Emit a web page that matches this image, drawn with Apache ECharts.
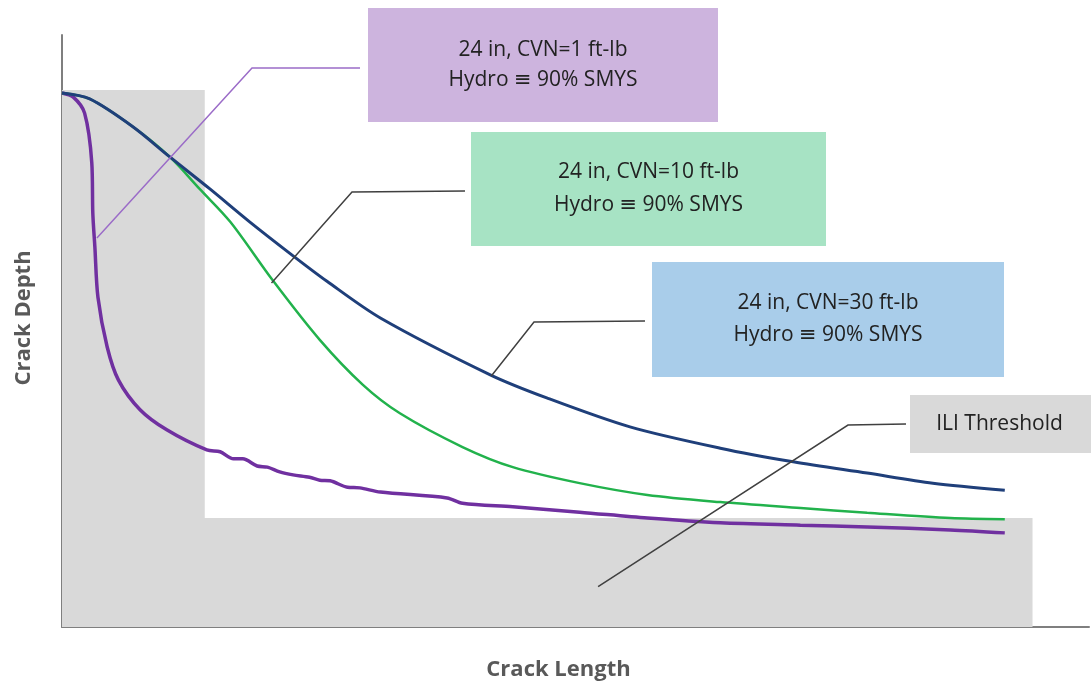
<!DOCTYPE html>
<html>
<head>
<meta charset="utf-8">
<title>Crack Depth vs Crack Length</title>
<script src="https://cdn.jsdelivr.net/npm/echarts@6/dist/echarts.min.js"></script>
<style>
    html, body { margin: 0; padding: 0; background: #fff; }
    #chart { width: 1091px; height: 684px; }
</style>
</head>
<body>
<div id="chart"></div>
<script>
/* ===== data (relative units, 0-100 on both axes) ===== */
const cvn30X = [0, 2.7, 6.9, 10.5, 14.4, 18.3, 22.5, 25.8, 31.0, 41.7, 47.2, 55.3, 64.1, 71.2, 78.4, 84.8, 91.8];
const cvn30Y = [90.2, 89.2, 84.5, 79.4, 74.0, 68.4, 62.7, 58.4, 52.2, 42.6, 38.7, 33.8, 30.2, 27.9, 26.0, 24.3, 23.1];

const cvn10X = [0, 2.7, 6.9, 10.5, 13.4, 16.4, 20.5, 25.1, 29.3, 32.9, 39.0, 43.9, 50.4, 57.0, 64.1, 71.9, 78.4, 86.5, 91.8];
const cvn10Y = [90.2, 89.2, 84.5, 79.4, 74.0, 68.4, 58.6, 48.5, 40.9, 36.1, 30.4, 27.0, 24.3, 22.3, 21.1, 20.1, 19.3, 18.4, 18.2];

const cvn1X = [0, 1.1, 2.2, 2.9, 3.0, 3.2, 3.5, 4.4, 5.5, 7.6, 10.2, 14.1, 15.4, 16.7, 17.6, 19.0, 20.0, 21.2, 22.5, 24.1, 25.1, 26.1, 27.8, 29.0, 31.0, 37.5, 39.0, 43.9, 50.4, 57.0, 64.1, 71.9, 78.4, 86.5, 91.8];
const cvn1Y = [90.2, 89.5, 86.8, 78.4, 69.9, 64.2, 55.7, 47.3, 41.7, 36.7, 33.3, 29.9, 29.6, 28.4, 28.4, 27.2, 27.0, 26.2, 25.7, 25.3, 24.8, 24.7, 23.6, 23.5, 22.8, 21.8, 20.9, 20.3, 19.4, 18.4, 17.6, 17.2, 16.9, 16.4, 15.9];

// ILI threshold outline (L-shaped region)
const iliX = [0, 13.9, 13.9, 94.5, 94.5];
const iliY = [90.7, 90.7, 18.4, 18.4, 0];

const boxTexts = [
    "24 in, CVN=1 ft-lb\nHydro \u2261 90% SMYS",
    "24 in, CVN=10 ft-lb\nHydro \u2261 90% SMYS",
    "24 in, CVN=30 ft-lb\nHydro \u2261 90% SMYS",
    "ILI Threshold",
];
// where each leader line touches the chart (data units)
const leaderTargets = [[3.4, 65.7], [20.4, 58.1], [41.8, 42.4], [52.2, 6.8]];

const zip = (xs, ys) => xs.map((x, i) => [x, ys[i]]);

/* ===== chart ===== */
const chart = echarts.init(document.getElementById("chart"));
const FONT = '"Open Sans", "DejaVu Sans", sans-serif';

const axisCommon = {
    type: "value",
    min: 0,
    max: 100,
    axisLine: { show: true, lineStyle: { color: "#7f7f7f", width: 2 } },
    axisTick: { show: false },
    axisLabel: { show: false },
    splitLine: { show: false },
    nameLocation: "middle",
};
const nameStyle = { color: "#595959", fontSize: 22, fontWeight: "bold", fontFamily: FONT };

function curve(name, xs, ys, color, width, z) {
    return {
        name, type: "line", data: zip(xs, ys), symbol: "none", smooth: 0.3, z,
        lineStyle: { color, width },
        silent: true,
    };
}

chart.setOption({
    animation: false,
    grid: { left: 62, right: 2, top: 35, bottom: 57, outerBoundsMode: "none", containLabel: false },
    xAxis: Object.assign({}, axisCommon, {
        name: "Crack Length", nameGap: 32,
        nameTextStyle: Object.assign({ padding: [0, 34, 0, 0] }, nameStyle),
    }),
    yAxis: Object.assign({}, axisCommon, {
        name: "Crack Depth", nameGap: 27,
        nameTextStyle: Object.assign({ padding: [0, 0, 0, 26] }, nameStyle),
    }),
    series: [
        {
            name: "ILI Threshold", type: "line", data: zip(iliX, iliY), symbol: "none", z: 1,
            lineStyle: { width: 0 }, areaStyle: { color: "#d9d9d9", opacity: 1 }, silent: true,
        },
        curve("CVN=1", cvn1X, cvn1Y, "#7030a0", 3.5, 2),
        curve("CVN=10", cvn10X, cvn10Y, "#22b24c", 2.5, 3),
        curve("CVN=30", cvn30X, cvn30Y, "#1f3f7a", 3, 4),
    ],
});

/* ===== annotation boxes + leader lines ===== */
const boxes = [
    { x: 368, y: 8, w: 350, h: 114, fill: "#cdb4de", lh: 30, elbow: [252, 68], side: [360, 68], line: "#9b6cc8" },
    { x: 471, y: 132, w: 355, h: 114, fill: "#a7e3c4", lh: 33, elbow: [352, 192], side: [465, 191], line: "#404040" },
    { x: 652, y: 262, w: 352, h: 115, fill: "#a9cdea", lh: 32, elbow: [534, 322], side: [645, 321], line: "#404040" },
    { x: 910, y: 395, w: 181, h: 58, fill: "#d9d9d9", lh: 30, elbow: [848, 425], side: [906, 424], line: "#404040" },
];

const graphics = [];
boxes.forEach((b, i) => {
    const tip = chart.convertToPixel({ gridIndex: 0 }, leaderTargets[i]);
    graphics.push({
        type: "polyline", silent: true, z: 10,
        shape: { points: [b.side, b.elbow, tip] },
        style: { stroke: b.line, lineWidth: 1.5, fill: null },
    });
    graphics.push({
        type: "rect", silent: true, z: 11,
        shape: { x: b.x, y: b.y, width: b.w, height: b.h },
        style: { fill: b.fill },
    });
    graphics.push({
        type: "text", silent: true, z: 12,
        x: b.x + b.w / 2 - (i === 3 ? 1 : 0), y: b.y + b.h / 2,
        style: {
            text: boxTexts[i], fill: "#222", font: "21px " + FONT,
            align: "center", verticalAlign: "middle", lineHeight: b.lh,
        },
    });
});
chart.setOption({ graphic: graphics });
</script>
</body>
</html>
